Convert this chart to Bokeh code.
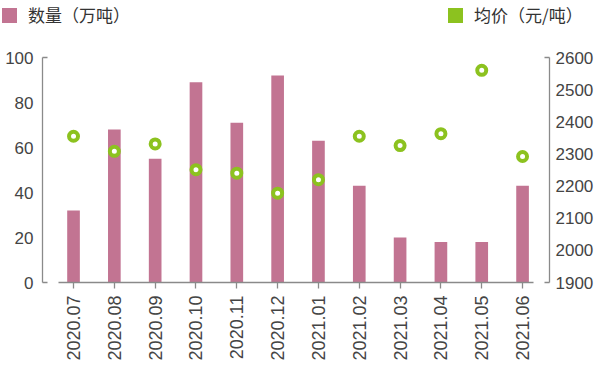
import math
from bokeh.plotting import figure
from bokeh.layouts import column
from bokeh.models import Range1d, LinearAxis, FixedTicker, ColumnDataSource, Div
from bokeh.embed import file_html
from bokeh.resources import INLINE

# ---- data ----
months = ["2020.07", "2020.08", "2020.09", "2020.10", "2020.11", "2020.12",
          "2021.01", "2021.02", "2021.03", "2021.04", "2021.05", "2021.06"]
volume = [32, 68, 55, 89, 71, 92, 63, 43, 20, 18, 18, 43]          # 数量（万吨）
price = [2355, 2308, 2331, 2251, 2240, 2178, 2220, 2355, 2326, 2363, 2560, 2292]  # 均价（元/吨）
vol_ticks = [0, 20, 40, 60, 80, 100]
price_ticks = [1900, 2000, 2100, 2200, 2300, 2400, 2500, 2600]
vol_label = "数量（万吨）"
price_label = "均价（元/吨）"

BAR = "#c27492"
GREEN = "#8cc21f"
AXIS = "#8a8a8a"
TXT = "#444444"
CJK = "Noto Sans CJK SC"
LAT = "Liberation Sans"

idx = list(range(len(months)))
src = ColumnDataSource(dict(x=idx, vol=volume, price=price))

v0, v1 = vol_ticks[0], vol_ticks[-1]
q0, q1 = price_ticks[0], price_ticks[-1]

# ---- header with the two legend keys ----
def key(left, color, label):
    return (f'<span style="position:absolute;left:{left}px;top:8px;width:15px;height:15px;'
            f'background:{color};"></span>'
            f'<span style="position:absolute;left:{left + 26}px;top:3px;line-height:24px;'
            f'white-space:nowrap;">{label}</span>')

head_html = (f'<div style="position:relative;width:599px;height:30px;font-family:\'{CJK}\';'
             f'font-size:17px;color:#333333;">'
             + key(2, BAR, vol_label) + key(448, GREEN, price_label) + '</div>')
head = Div(text=head_html, width=599, height=30, margin=(0, 0, 0, 0))

# ---- main chart ----
p = figure(width=599, height=349, output_backend="svg", toolbar_location=None,
           x_range=Range1d(-0.76, 11.66), y_range=Range1d(v0, v1),
           min_border_left=42, min_border_right=50, min_border_top=27, min_border_bottom=97,
           x_axis_type=None, y_axis_type=None)
p.extra_y_ranges = {"price": Range1d(q0, q1)}
p.outline_line_color = None
p.xgrid.visible = False
p.ygrid.visible = False
p.background_fill_color = "white"
p.border_fill_color = "white"

p.vbar(x="x", top="vol", width=0.31, source=src, fill_color=BAR, line_color=None)
p.scatter(x="x", y="price", source=src, y_range_name="price", size=9,
          fill_color="white", line_color=GREEN, line_width=4)

# x axis
xax = LinearAxis(ticker=FixedTicker(ticks=idx),
                 major_label_overrides={i: m for i, m in zip(idx, months)})
xax.bounds = (-0.37, 11.27)
xax.major_label_orientation = math.pi / 2
xax.major_tick_in = 0
xax.major_tick_out = 6
xax.minor_tick_line_color = None
xax.axis_line_color = AXIS
xax.major_tick_line_color = AXIS
xax.axis_line_width = 1.3
xax.major_tick_line_width = 1.3
xax.major_label_standoff = 7
xax.major_label_text_font = LAT
xax.major_label_text_font_size = "18px"
xax.major_label_text_color = TXT
p.add_layout(xax, "below")

def style_y(ax):
    ax.major_tick_in = 0
    ax.major_tick_out = 0
    ax.major_tick_line_color = None
    ax.minor_tick_in = 5
    ax.minor_tick_out = 0
    ax.minor_tick_line_color = AXIS
    ax.minor_tick_line_width = 1.3
    ax.axis_line_color = AXIS
    ax.axis_line_width = 1.3
    ax.major_label_text_font = LAT
    ax.major_label_text_font_size = "17px"
    ax.major_label_text_color = TXT

yl = LinearAxis(ticker=FixedTicker(ticks=vol_ticks, minor_ticks=[v0, v1]))
style_y(yl)
yl.major_label_standoff = 9
p.add_layout(yl, "left")

yr = LinearAxis(y_range_name="price",
                ticker=FixedTicker(ticks=price_ticks, minor_ticks=[q0, q1]))
style_y(yr)
yr.major_label_standoff = 6
p.add_layout(yr, "right")

layout = column(head, p, spacing=0)
open("out.html", "w").write(file_html(layout, INLINE))
